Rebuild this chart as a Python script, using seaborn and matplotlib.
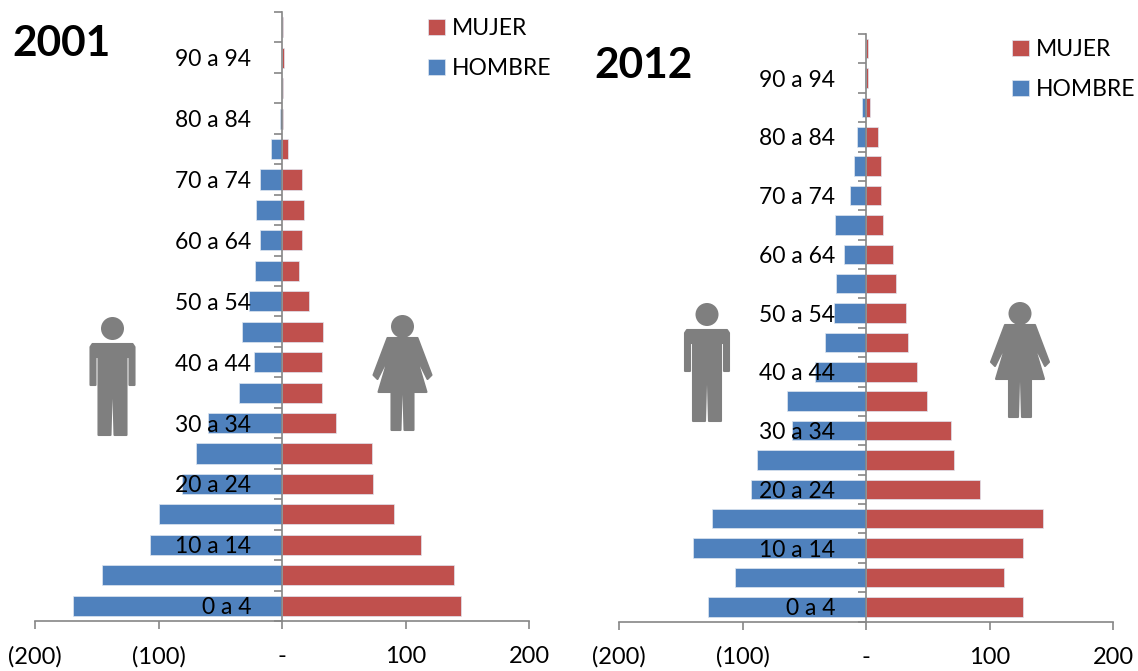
import matplotlib
matplotlib.use("Agg")
import matplotlib.pyplot as plt
from matplotlib.patches import Circle, Polygon
import pandas as pd
import seaborn as sns

W, H = 1138, 671

age_groups = ["95 a 99", "90 a 94", "85 a 89", "80 a 84", "75 a 79", "70 a 74", "65 a 69",
              "60 a 64", "55 a 59", "50 a 54", "45 a 49", "40 a 44", "35 a 39", "30 a 34",
              "25 a 29", "20 a 24", "15 a 19", "10 a 14", "5 a 9", "0 a 4"]
age_labels = ["", "90 a 94", "", "80 a 84", "", "70 a 74", "", "60 a 64", "", "50 a 54",
              "", "40 a 44", "", "30 a 34", "", "20 a 24", "", "10 a 14", "", "0 a 4"]

mujer_2001 = [1, 2, 1, 1, 5, 16, 18, 16, 13.5, 22, 33, 32, 32, 44, 73, 74, 91, 112.6, 139, 145]
hombre_2001 = [0, 0, 0, -2, -9, -18, -21, -18, -22, -27, -32, -23, -35, -60, -70, -81, -99.4, -107, -146, -169.5]
mujer_2012 = [2, 2, 3, 10, 12, 12, 14, 22, 24, 32, 34, 41, 49, 69, 71, 92, 143, 127, 112, 127]
hombre_2012 = [0, -1, -3, -7, -10, -13, -25, -18, -24, -26, -33, -41, -64, -60, -88, -93, -125, -140, -106, -128]

x_ticks = [-200, -100, 0, 100, 200]
x_labels = ["(200)", "(100)", "-", "100", "200"]

ROJO = "#C0504D"
AZUL = "#4F81BD"
GRIS = "#868686"
ICONO = "#7F7F7F"

sns.set_style("white")
plt.rcParams["font.family"] = ["Lato", "DejaVu Sans"]
plt.rcParams["text.color"] = "black"

fig = plt.figure(figsize=(W / 100, H / 100), dpi=100)


def pyramid(mujer, hombre, left, right, top, bottom, legend_xy):
    ax = fig.add_axes([left / W, 1 - bottom / H, (right - left) / W, (bottom - top) / H])
    df = pd.DataFrame({
        "edad": age_groups * 2,
        "valor": mujer + hombre,
        "sexo": ["MUJER"] * len(mujer) + ["HOMBRE"] * len(hombre),
    })
    sns.barplot(data=df, y="edad", x="valor", hue="sexo", order=age_groups,
                hue_order=["MUJER", "HOMBRE"], palette=[ROJO, AZUL], dodge=False,
                saturation=1, width=0.66, edgecolor="#dfe6f0", linewidth=0.5, ax=ax)
    ax.set_xlim(-200, 200)
    ax.set_ylim(len(age_groups) - 0.5, -0.5)
    ax.set_xlabel("")
    ax.set_ylabel("")

    sns.despine(ax=ax, top=True, right=True)
    ax.spines["left"].set_position(("data", 0))
    for s in ["left", "bottom"]:
        ax.spines[s].set_color(GRIS)
        ax.spines[s].set_linewidth(1.2)

    ax.set_xticks(x_ticks, x_labels)
    ax.tick_params(axis="x", bottom=True, length=6, width=1.2, color=GRIS, pad=12,
                   labelsize=17, labelcolor="black")

    # group labels sit on the bars, tick marks fall between the groups
    ax.set_yticks(range(len(age_groups)), age_labels)
    ax.tick_params(axis="y", which="major", left=False, length=0, pad=22,
                   labelsize=16.5, labelcolor="black")
    ax.set_yticks([i - 0.5 for i in range(len(age_groups) + 1)], minor=True)
    ax.tick_params(axis="y", which="minor", left=True, length=6, width=1.2, color=GRIS)
    ax.set_axisbelow(False)

    sns.move_legend(ax, "upper left", bbox_to_anchor=(legend_xy[0] / W, 1 - legend_xy[1] / H),
                    bbox_transform=fig.transFigure, title=None, frameon=False,
                    fontsize=16.5, handlelength=0.73, handleheight=0.73, handletextpad=0.3,
                    labelspacing=0.82, borderpad=0, borderaxespad=0)
    return ax


pyramid(mujer_2001, hombre_2001, 35, 529, 12, 621, (428, 18))
pyramid(mujer_2012, hombre_2012, 619, 1113, 34, 621.5, (1012, 39))

fig.text(12 / W, 1 - 44 / H, "2001", fontsize=30.5, fontweight="bold", va="center", ha="left")
fig.text(594 / W, 1 - 66 / H, "2012", fontsize=30.5, fontweight="bold", va="center", ha="left")

# grey man / woman icons, in pixel coordinates of the picture
over = fig.add_axes([0, 0, 1, 1])
over.set_xlim(0, W)
over.set_ylim(H, 0)
over.axis("off")

man = [(-20, 27), (20, 27), (22, 30), (22, 68), (17, 68), (17, 40), (14, 40), (14, 118), (2, 118),
       (1, 80), (-1, 80), (-2, 118), (-14, 118), (-14, 40), (-17, 40), (-17, 68), (-22, 68), (-22, 30)]
woman = [(15, 23), (29, 60), (25, 64), (13, 40), (24, 77), (11, 77), (11, 115), (2, 115), (1, 78),
         (-1, 78), (-2, 115), (-11, 115), (-11, 77), (-24, 77), (-13, 40), (-25, 64), (-29, 60), (-15, 23)]


def icon(shape, cx, top, head_y, head_r):
    over.add_patch(Circle((cx, top + head_y), head_r, color=ICONO, lw=0))
    pts = [(cx + dx, top + dy) for dx, dy in shape]
    over.add_patch(Polygon(pts, closed=True, facecolor=ICONO, edgecolor=ICONO, lw=1.5, joinstyle="round"))


icon(man, 112.5, 317, 11.5, 11.5)
icon(woman, 402.5, 315, 11.5, 11.5)
icon(man, 707, 303, 11.5, 11.5)
icon(woman, 1020, 302, 11.5, 11.5)

fig.savefig("out.png", dpi=100)
